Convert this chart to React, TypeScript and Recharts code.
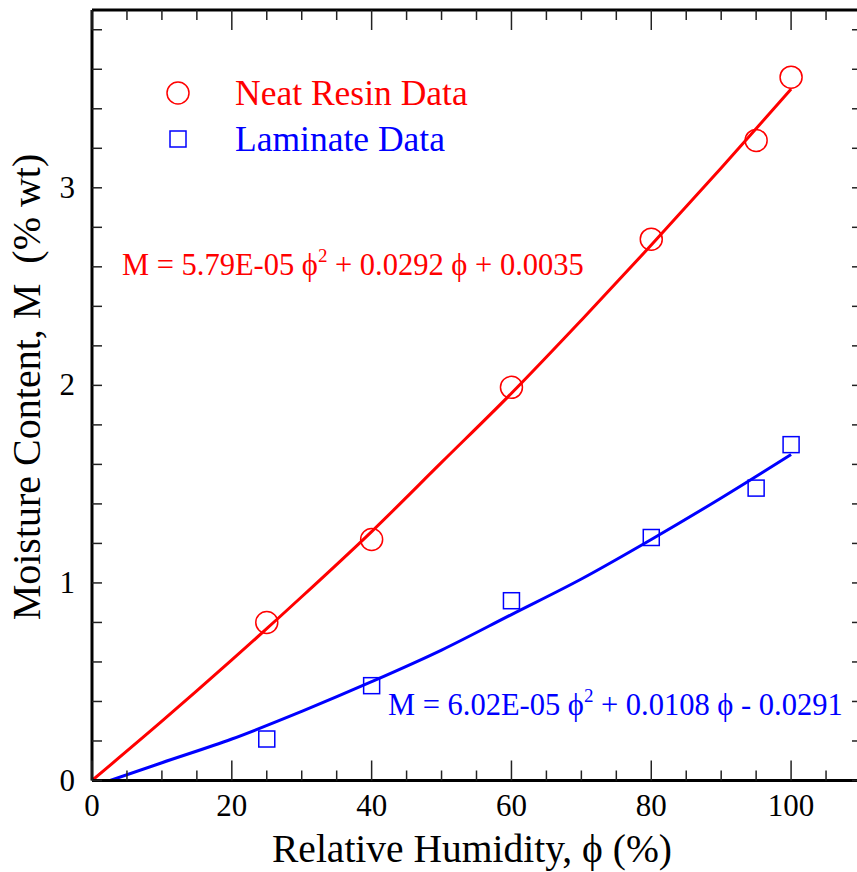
import { ComposedChart, Customized, Legend, Line, Scatter, XAxis, YAxis } from 'recharts'

// measured data points
const HUMIDITY = [25, 40, 60, 80, 95, 100]
const RESIN_MOISTURE = [0.8, 1.22, 1.99, 2.74, 3.24, 3.56]
const LAMINATE_MOISTURE = [0.21, 0.48, 0.91, 1.23, 1.48, 1.7]

// fitted curves
const RESIN_FIT_HUMIDITY = [0, 10, 20, 30, 40, 50, 60, 70, 80, 90, 100]
const RESIN_FIT = [0.0, 0.3, 0.61, 0.93, 1.26, 1.61, 1.96, 2.33, 2.71, 3.1, 3.5]
const LAMINATE_FIT_HUMIDITY = [2.6, 10, 20, 30, 40, 50, 60, 70, 80, 90, 100]
const LAMINATE_FIT = [0.0, 0.09, 0.21, 0.35, 0.5, 0.66, 0.84, 1.02, 1.22, 1.43, 1.65]

const X_TICKS = [0, 5, 10, 15, 20, 25, 30, 35, 40, 45, 50, 55, 60, 65, 70, 75, 80, 85, 90, 95, 100, 105, 110]
const X_LABELS = [0, 20, 40, 60, 80, 100]
const Y_TICKS = [0, 0.2, 0.4, 0.6, 0.8, 1, 1.2, 1.4, 1.6, 1.8, 2, 2.2, 2.4, 2.6, 2.8, 3, 3.2, 3.4, 3.6, 3.8]
const Y_LABELS = [0, 1, 2, 3]

const RED = '#ff0000'
const BLUE = '#0000ff'
const FONT = '"Liberation Serif", "Times New Roman", serif'
const PHI = '\u03D5'

const W = 880
const H = 872
const PLOT_LEFT = 92
const PLOT_TOP = 10
const PLOT_RIGHT = 862
const PLOT_BOTTOM = 780.5

const toPoints = (xs: number[], ys: number[]) => xs.map((x, i) => ({ x, y: ys[i] }))

const resinData = toPoints(HUMIDITY, RESIN_MOISTURE)
const laminateData = toPoints(HUMIDITY, LAMINATE_MOISTURE)
const resinFit = toPoints(RESIN_FIT_HUMIDITY, RESIN_FIT)
const laminateFit = toPoints(LAMINATE_FIT_HUMIDITY, LAMINATE_FIT)

const TICK_STROKE = '#222'

function BottomTick({ x, payload }: any) {
  const major = X_LABELS.includes(payload.value)
  return (
    <g>
      <line x1={x} x2={x} y1={PLOT_BOTTOM} y2={PLOT_BOTTOM - (major ? 20 : 10)} stroke={TICK_STROKE} strokeWidth={1.5} />
      {major ? (
        <text x={x} y={PLOT_BOTTOM + 35} textAnchor="middle" fontFamily={FONT} fontSize={31} fill="#000">
          {payload.value}
        </text>
      ) : null}
    </g>
  )
}

function TopTick({ x, payload }: any) {
  const major = X_LABELS.includes(payload.value)
  return <line x1={x} x2={x} y1={PLOT_TOP} y2={PLOT_TOP + (major ? 20 : 10)} stroke={TICK_STROKE} strokeWidth={1.5} />
}

function LeftTick({ y, payload }: any) {
  const major = Y_LABELS.includes(payload.value)
  return (
    <g>
      <line x1={PLOT_LEFT} x2={PLOT_LEFT + 10} y1={y} y2={y} stroke={TICK_STROKE} strokeWidth={1.5} />
      {major ? (
        <text x={PLOT_LEFT - 17} y={y + 10} textAnchor="end" fontFamily={FONT} fontSize={31} fill="#000">
          {payload.value}
        </text>
      ) : null}
    </g>
  )
}

function RightTick({ y }: any) {
  return <line x1={PLOT_RIGHT} x2={PLOT_RIGHT - 10} y1={y} y2={y} stroke={TICK_STROKE} strokeWidth={1.5} />
}

function Annotations() {
  return (
    <g fontFamily={FONT}>
      <line x1={PLOT_LEFT} x2={PLOT_RIGHT} y1={PLOT_TOP} y2={PLOT_TOP} stroke="#000" strokeWidth={3} />
      <text x={472} y={862} textAnchor="middle" fontSize={39.5} fill="#000">
        {`Relative Humidity, ${PHI} (%)`}
      </text>
      <text
        x={40}
        y={387}
        transform="rotate(-90 40 387)"
        textAnchor="middle"
        fontSize={40}
        fill="#000"
        style={{ whiteSpace: 'pre' }}
      >
        {'Moisture Content, M\u00A0\u00A0(% wt)'}
      </text>
      <text x={122} y={275} fontSize={30.5} fill={RED}>
        {`M = 5.79E-05 ${PHI}`}
        <tspan dy={-13} fontSize={19}>2</tspan>
        <tspan dy={13}>{` + 0.0292 ${PHI} + 0.0035`}</tspan>
      </text>
      <text x={388} y={715} fontSize={30.5} fill={BLUE}>
        {`M = 6.02E-05 ${PHI}`}
        <tspan dy={-13} fontSize={19}>2</tspan>
        <tspan dy={13}>{` + 0.0108 ${PHI} - 0.0291`}</tspan>
      </text>
    </g>
  )
}

function LegendBox() {
  const rows = [
    { label: 'Neat Resin Data', color: RED, icon: <circle cx={18} cy={23} r={11} fill="none" stroke={RED} strokeWidth={1.5} /> },
    { label: 'Laminate Data', color: BLUE, icon: <rect x={10} y={15} width={16} height={16} fill="none" stroke={BLUE} strokeWidth={1.5} /> },
  ]
  return (
    <div style={{ fontFamily: FONT, fontSize: 35.5 }}>
      {rows.map((r) => (
        <div key={r.label} style={{ display: 'flex', alignItems: 'center', height: 46, color: r.color }}>
          <svg width={36} height={46}>{r.icon}</svg>
          <span style={{ marginLeft: 39, lineHeight: '46px' }}>{r.label}</span>
        </div>
      ))}
    </div>
  )
}

export default function App() {
  return (
    <div style={{ position: 'absolute', left: 0, top: 0, width: 857, height: 872, overflow: 'hidden', background: '#fff' }}>
      <ComposedChart width={W} height={H} margin={{ top: PLOT_TOP - 1, right: W - PLOT_RIGHT, left: 32, bottom: H - PLOT_BOTTOM - 60 }}>
        <XAxis
          xAxisId={0}
          type="number"
          dataKey="x"
          domain={[0, 110]}
          ticks={X_TICKS}
          interval={0}
          height={60}
          allowDataOverflow
          axisLine={{ stroke: '#000', strokeWidth: 3 }}
          tickLine={false}
          tick={(p: any) => <BottomTick {...p} />}
        />
        <XAxis
          xAxisId="top"
          orientation="top"
          type="number"
          dataKey="x"
          domain={[0, 110]}
          ticks={X_TICKS}
          interval={0}
          height={1}
          allowDataOverflow
          axisLine={false}
          tickLine={false}
          tick={(p: any) => <TopTick {...p} />}
        />
        <YAxis
          yAxisId={0}
          type="number"
          dataKey="y"
          domain={[0, 3.9]}
          ticks={Y_TICKS}
          interval={0}
          width={60}
          allowDataOverflow
          axisLine={{ stroke: '#000', strokeWidth: 3 }}
          tickLine={false}
          tick={(p: any) => <LeftTick {...p} />}
        />
        <YAxis
          yAxisId="right"
          orientation="right"
          type="number"
          dataKey="y"
          domain={[0, 3.9]}
          ticks={Y_TICKS}
          interval={0}
          width={1}
          allowDataOverflow
          axisLine={false}
          tickLine={false}
          tick={(p: any) => <RightTick {...p} />}
        />
        <Line data={resinFit} dataKey="y" type="monotone" stroke={RED} strokeWidth={3} dot={false} isAnimationActive={false} legendType="none" />
        <Line data={laminateFit} dataKey="y" type="monotone" stroke={BLUE} strokeWidth={3} dot={false} isAnimationActive={false} legendType="none" />
        <Scatter
          name="Neat Resin Data"
          data={resinData}
          dataKey="y"
          isAnimationActive={false}
          shape={(p: any) => <circle cx={p.cx} cy={p.cy} r={11} fill="none" stroke={RED} strokeWidth={1.5} />}
        />
        <Scatter
          name="Laminate Data"
          data={laminateData}
          dataKey="y"
          isAnimationActive={false}
          shape={(p: any) => <rect x={p.cx - 8} y={p.cy - 8} width={16} height={16} fill="none" stroke={BLUE} strokeWidth={1.5} />}
        />
        <Legend
          layout="vertical"
          align="center"
          verticalAlign="middle"
          wrapperStyle={{ left: 160, top: 70, width: 'auto' }}
          content={() => <LegendBox />}
        />
        <Customized component={Annotations} />
      </ComposedChart>
    </div>
  )
}
